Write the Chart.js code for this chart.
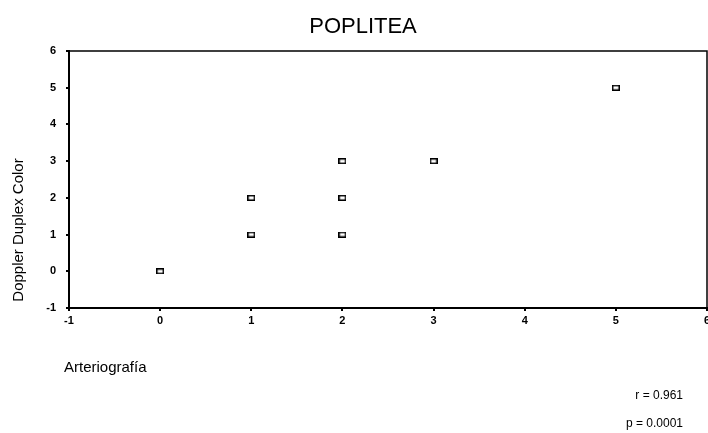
<!DOCTYPE html>
<html>
<head>
<meta charset="utf-8">
<script src="https://cdn.jsdelivr.net/npm/chart.js@4.4.1/dist/chart.umd.min.js"></script>
<style>
  html, body { margin:0; padding:0; background:#fff; }
  #wrap { width:708px; height:433px; }
</style>
</head>
<body>
<div id="wrap"><canvas id="chart" width="708" height="433"></canvas></div>
<script>
// Data
const xValues = [0, 1, 1, 2, 2, 2, 3, 5];   // Arteriografía
const yValues = [0, 1, 2, 1, 2, 3, 3, 5];   // Doppler Duplex Color
const axisMin = -1;
const axisMax = 6;
const chartTitle = "POPLITEA";
const xTitle = "Arteriografía";
const yTitle = "Doppler Duplex Color";
const statLines = ["r = 0.961", "p = 0.0001"];

const FONT = "'Liberation Sans', Arial, sans-serif";

// small hollow rectangle marker
function makeMarker(){
  const c = document.createElement("canvas");
  c.width = 8; c.height = 6;
  const g = c.getContext("2d");
  g.strokeStyle = "#000";
  g.lineWidth = 1.5;
  g.strokeRect(0.75, 0.75, 6.5, 4.5);
  return c;
}

// box + titles + stats text
const decorPlugin = {
  id: "decor",
  afterDraw(chart){
    const { ctx, chartArea: a } = chart;
    ctx.save();
    ctx.strokeStyle = "#000";
    ctx.lineWidth = 1.5;
    ctx.strokeRect(a.left, a.top, a.right - a.left, a.bottom - a.top);

    ctx.fillStyle = "#000";
    ctx.font = "22px " + FONT;
    ctx.textAlign = "center";
    ctx.textBaseline = "alphabetic";
    ctx.fillText(chartTitle, 363, 33);

    ctx.font = "15px " + FONT;
    ctx.textAlign = "left";
    ctx.fillText(xTitle, 64, 372);

    ctx.save();
    ctx.translate(23, 230);
    ctx.rotate(-Math.PI / 2);
    ctx.textAlign = "center";
    ctx.fillText(yTitle, 0, 0);
    ctx.restore();

    ctx.font = "12px " + FONT;
    ctx.textAlign = "right";
    ctx.fillText(statLines[0], 683, 399);
    ctx.fillText(statLines[1], 683, 427);
    ctx.restore();
  }
};

const tickFont = { family: FONT, size: 11, weight: "bold" };

new Chart(document.getElementById("chart"), {
  type: "scatter",
  data: {
    datasets: [{
      data: xValues.map((x, i) => ({ x: x, y: yValues[i] })),
      pointStyle: makeMarker(),
      pointRadius: 4,
      pointHoverRadius: 4
    }]
  },
  options: {
    responsive: false,
    animation: false,
    layout: { autoPadding: false, padding: { left: 30, right: 1, top: 51, bottom: 100 } },
    plugins: { legend: { display:false }, tooltip: { enabled:false }, title: { display:false } },
    scales: {
      x: {
        type: "linear",
        min: axisMin, max: axisMax,
        ticks: { stepSize: 1, color: "#000", font: tickFont, padding: 3, maxRotation: 0 },
        grid: { drawOnChartArea: false, drawTicks: true, tickLength: 3, color: "#000", lineWidth: 2 },
        border: { display: true, color: "#000", width: 2 },
        afterFit(s){ s.height = 25; s.paddingLeft = 0; s.paddingRight = 0; }
      },
      y: {
        type: "linear",
        min: axisMin, max: axisMax,
        ticks: { stepSize: 1, color: "#000", font: tickFont, padding: 10 },
        grid: { drawOnChartArea: false, drawTicks: true, tickLength: 3, color: "#000", lineWidth: 2 },
        border: { display: true, color: "#000", width: 2 },
        afterFit(s){ s.width = 39; s.paddingTop = 0; s.paddingBottom = 0; }
      }
    }
  },
  plugins: [decorPlugin]
});
</script>
</body>
</html>
